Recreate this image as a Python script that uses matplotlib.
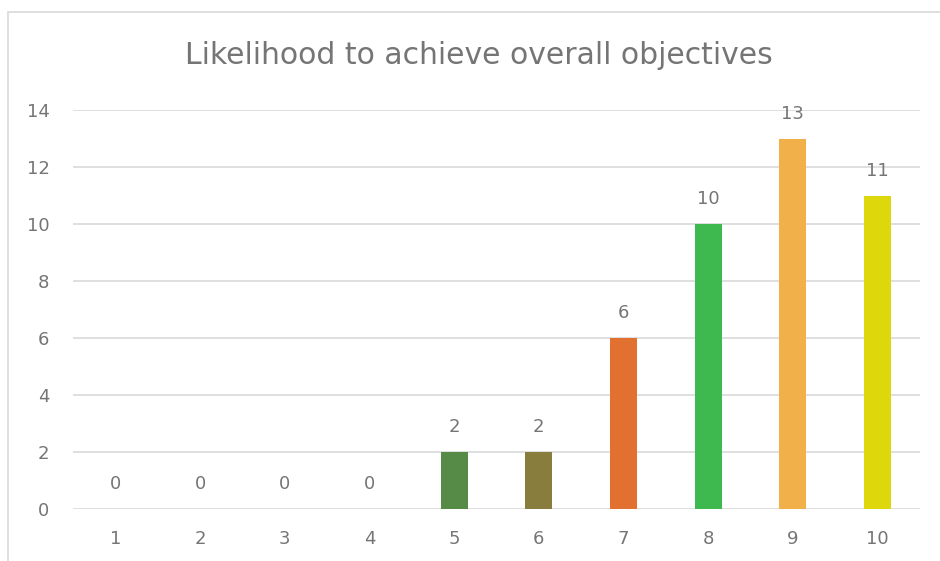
import matplotlib.pyplot as plt
from matplotlib.patches import Rectangle

categories = ["1", "2", "3", "4", "5", "6", "7", "8", "9", "10"]
counts = [0, 0, 0, 0, 2, 2, 6, 10, 13, 11]
bar_colors = ["#4472C4", "#4472C4", "#4472C4", "#4472C4",
              "#558B47", "#897D3D", "#E27131", "#3DB94F", "#F2B04A", "#DDD70B"]

text_col = "#757575"
grid_col = "#D9D9D9"

fig = plt.figure(figsize=(9.4, 5.61), dpi=100)
ax = fig.add_axes([0.0777, 0.0927, 0.901, 0.711])

x = range(len(categories))
ax.bar(x, counts, width=0.32, color=bar_colors, zorder=3)
for xi, v in zip(x, counts):
    ax.text(xi, v + 0.55, str(v), ha="center", va="bottom", fontsize=13, color=text_col)

ax.set_xlim(-0.5, len(categories) - 0.5)
ax.set_ylim(0, 14)
ax.set_yticks(range(0, 15, 2))
ax.set_xticks(list(x))
ax.set_xticklabels(categories)
ax.tick_params(axis="both", length=0, labelsize=13, colors=text_col)
ax.tick_params(axis="x", pad=15)
ax.tick_params(axis="y", pad=17)
ax.grid(axis="y", color=grid_col, linewidth=1.2, zorder=0)
for s in ax.spines.values():
    s.set_visible(False)

fig.text(479 / 940, 1 - 55 / 561, "Likelihood to achieve overall objectives", ha="center", va="center",
         fontsize=21.5, color=text_col)

# outer chart frame (bottom and right edges fall outside the picture)
fig.patches.append(Rectangle((8 / 940, -10 / 561), 1.0, 559 / 561, transform=fig.transFigure,
                             fill=False, edgecolor=grid_col, linewidth=1.2))

plt.savefig("out.png", dpi=100)
